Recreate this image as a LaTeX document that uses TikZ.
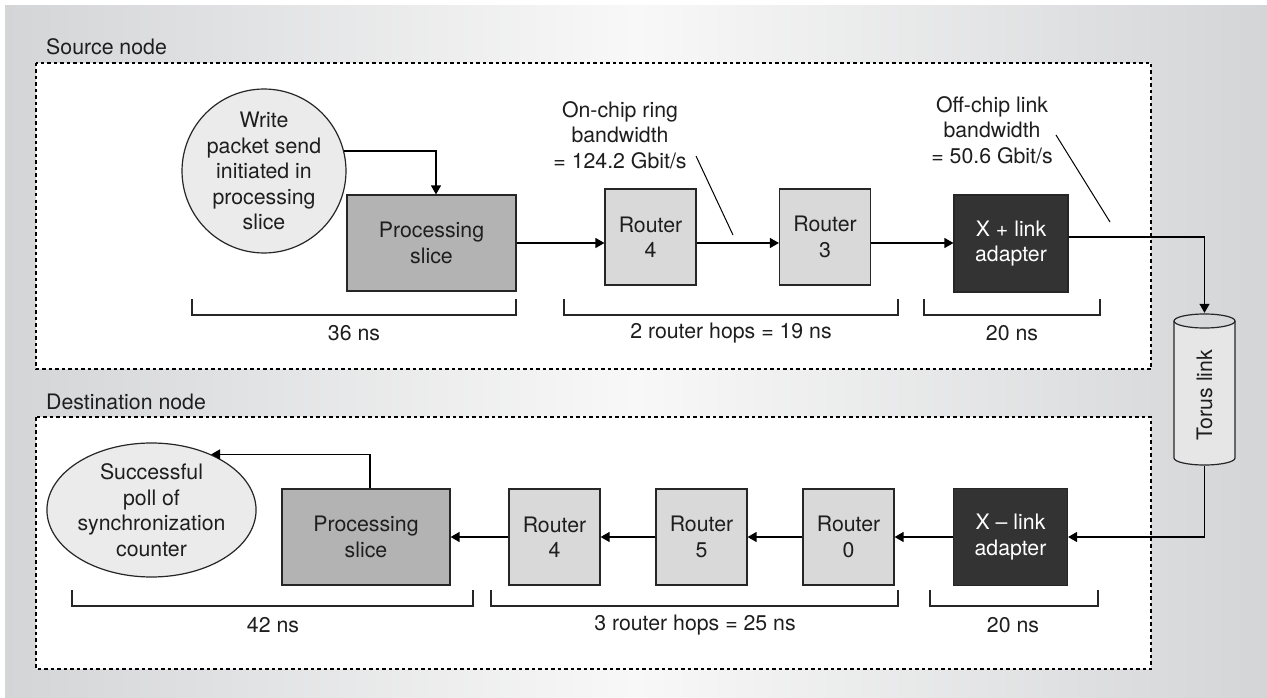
\documentclass[tikz,border=0pt]{standalone}
\usepackage{fontspec}
\setmainfont{TeX Gyre Heros}
\usetikzlibrary{arrows.meta,shapes.geometric}
\definecolor{bgedge}{HTML}{D4D5D7}
\definecolor{bgmid}{HTML}{F8F8F8}
\definecolor{txt}{HTML}{1E1E1E}
\definecolor{eventfill}{HTML}{EBEBEB}
\definecolor{procfill}{HTML}{B3B3B3}
\definecolor{routerfill}{HTML}{D9D9D9}
\definecolor{adapterfill}{HTML}{333333}
\definecolor{cylfill}{HTML}{E6E6E6}
\newcommand{\lbl}{\fontsize{21.3}{25.5}\selectfont}
\begin{document}
\begin{tikzpicture}[x=1pt,y=-1pt,
  font=\lbl, text=txt,
  box/.style={draw=black!85, line width=1.2pt, align=center, inner sep=0pt},
  procbox/.style={box, fill=procfill, minimum width=169, minimum height=96},
  routerbox/.style={box, fill=routerfill, minimum width=91, minimum height=96},
  adapterbox/.style={box, fill=adapterfill, text=white, minimum width=114, minimum height=97},
  eventnode/.style={draw=black!85, line width=1.2pt, fill=eventfill, align=center, inner sep=0pt},
  groupbox/.style={draw=black, line width=1.1pt, dash pattern=on 3.5pt off 3pt, fill=white},
  flow/.style={draw=black, line width=1.3pt, -{Triangle[length=9pt,width=10pt]}},
  leader/.style={draw=black, line width=1pt},
  span/.style={draw=black!85, line width=1.2pt},
  plain/.style={align=center, inner sep=0pt}
]
\useasboundingbox (0,0) rectangle (1267,698);
\shade[left color=bgedge, right color=bgedge, middle color=bgmid] (5,6) rectangle (1267,698);

% node frames
\draw[groupbox] (36,63) rectangle (1151,369);
\draw[groupbox] (36,417) rectangle (1151,669);
\node[plain, anchor=west] (srclabel) at (46,47) {Source node};
\node[plain, anchor=west] (dstlabel) at (46,402) {Destination node};

% source chain
\node[eventnode, circle, minimum size=144] (write) at (264,171)
  {Write\\packet send\\initiated in\\processing\\slice};
\node[procbox] (proc) at (431.5,243) {Processing\\slice};
\node[routerbox] (sr4) at (650.5,237) {Router\\4};
\node[routerbox] (sr3) at (825,237) {Router\\3};
\node[adapterbox] (xplus) at (1011,243.5) {X + link\\adapter};

% torus link cylinder
\node[minimum width=61, minimum height=153, inner sep=0pt] (torus) at (1204.5,389.5) {};
\fill[cylfill] (1174,321) -- (1174,458) arc (180:0:30.5 and 7) -- (1235,321) arc (0:180:30.5 and 7) -- cycle;
\draw[line width=1.2pt, draw=black!85] (1174,321) -- (1174,458) arc (180:0:30.5 and 7) -- (1235,321);
\draw[line width=1.2pt, draw=black!85] (1204.5,321) ellipse [x radius=30.5, y radius=7];
\node[plain, rotate=90] (toruslabel) at (1204.5,395) {Torus link};

% destination chain
\node[eventnode, ellipse, minimum width=175, minimum height=134] (poll) at (151.5,510)
  {Successful\\poll of\\synchronization\\counter};
\node[procbox, minimum width=168] (dproc) at (366,537) {Processing\\slice};
\node[routerbox] (dr4) at (554.5,537) {Router\\4};
\node[routerbox] (dr5) at (701.5,537) {Router\\5};
\node[routerbox] (dr0) at (848.5,537) {Router\\0};
\node[adapterbox] (xminus) at (1010.5,537) {X -- link\\adapter};

% flow arrows
\draw[flow] (write.14) -| ([xshift=4.5pt]proc.north);
\draw[flow] (proc.east) -- (sr4.west |- proc.east);
\draw[flow] (sr4.east |- proc.east) -- (sr3.west |- proc.east);
\draw[flow] (sr3.east |- proc.east) -- (xplus.west |- proc.east);
\draw[flow] (xplus.east |- sr3.east) -| (torus.north);
\draw[flow] (torus.south) |- (xminus.east);
\draw[flow] (xminus.west) -- (dr0.east);
\draw[flow] (dr0.west) -- (dr5.east);
\draw[flow] (dr5.west) -- (dr4.east);
\draw[flow] (dr4.west) -- (dproc.east);
\draw[flow] ([xshift=4pt]dproc.north) |- (poll.43);

% bandwidth notes
\node[plain] (ringnote) at (620,135) {On-chip ring\\bandwidth\\= 124.2 Gbit/s};
\node[plain] (linknote) at (992,130) {Off-chip link\\bandwidth\\= 50.6 Gbit/s};
\coordinate (ringfrom) at (696,156);
\coordinate (ringto) at (733,235);
\coordinate (linkfrom) at (1056,135);
\coordinate (linkto) at (1110,222);
\draw[leader] (ringfrom) -- (ringto);
\draw[leader] (linkfrom) -- (linkto);

% latency spans, source
\draw[span] (192,299) -- (192,315) -- (516,315) -- (516,299);
\node[plain] (t36) at (354,333) {36 ns};
\draw[span] (564,299) -- (564,315) -- (898,315) -- (898,299);
\node[plain] (t19) at (731,333) {2 router hops = 19 ns};
\draw[span] (924,299) -- (924,315) -- (1100,315) -- (1100,299);
\node[plain] (t20a) at (1012,333) {20 ns};

% latency spans, destination
\draw[span] (72,590) -- (72,606) -- (473,606) -- (473,590);
\node[plain] (t42) at (273,625) {42 ns};
\draw[span] (491,590) -- (491,606) -- (898,606) -- (898,590);
\node[plain] (t25) at (695,625) {3 router hops = 25 ns};
\draw[span] (930,590) -- (930,606) -- (1098,606) -- (1098,590);
\node[plain] (t20b) at (1013,625) {20 ns};
\end{tikzpicture}
\end{document}
